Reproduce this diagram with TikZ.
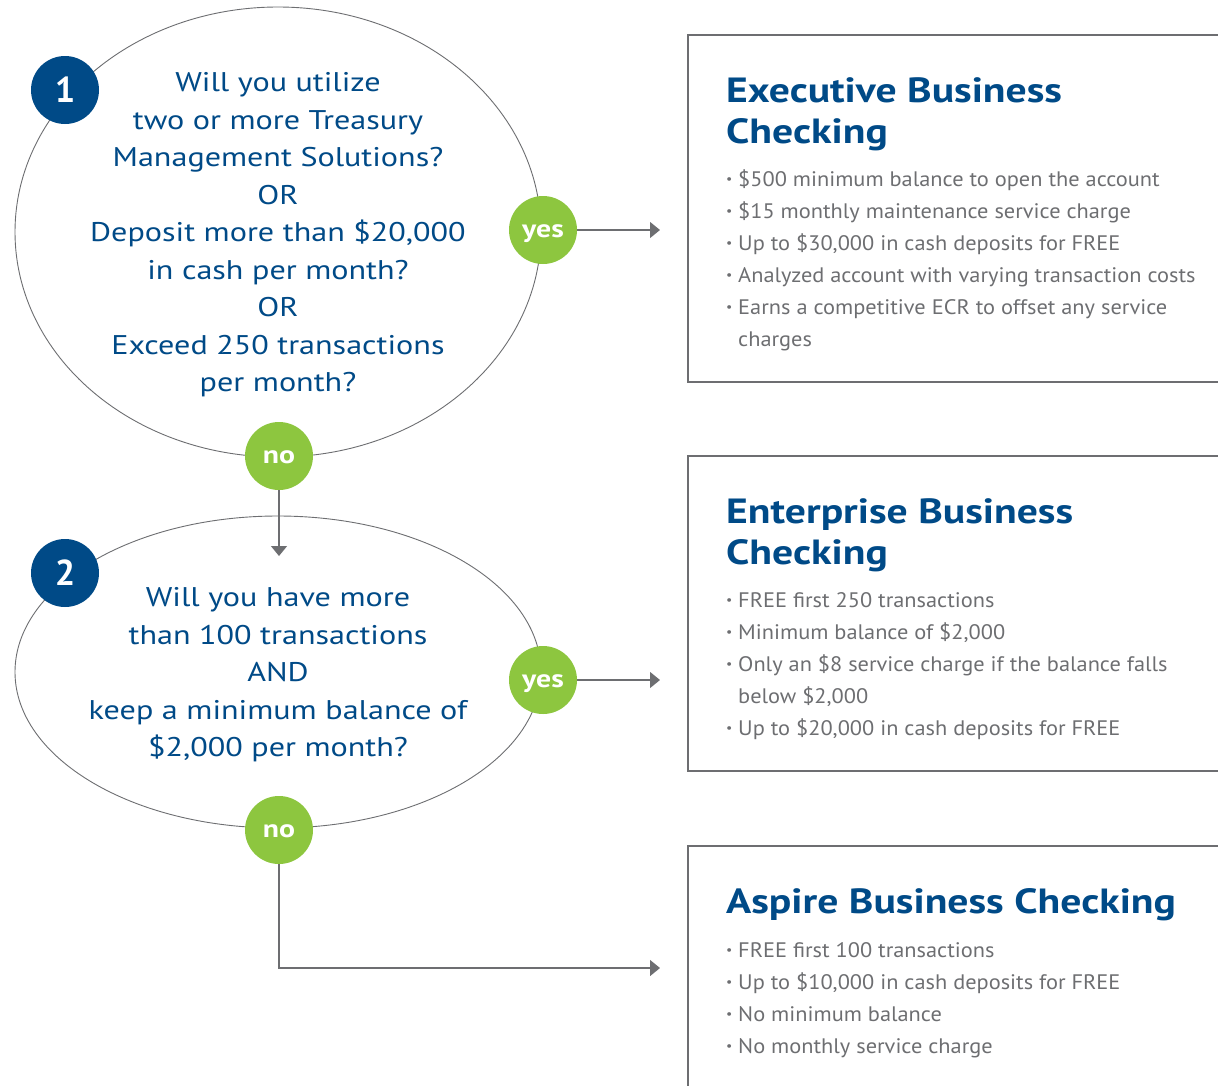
\documentclass[tikz,border=0pt]{standalone}
\usepackage{fontspec}
\setmainfont{PT Sans}
\newfontfamily\widefont[FakeStretch=1.19]{PT Sans}
\newfontfamily\itemfont[FakeStretch=1.065]{PT Sans}
\usetikzlibrary{shapes.geometric,arrows.meta}
\definecolor{navy}{HTML}{004A87}
\definecolor{lgreen}{HTML}{8DC63F}
\definecolor{txtgray}{HTML}{6D6E71}
\definecolor{lngray}{HTML}{6D6E71}
\newcommand\bl{\makebox[12pt][l]{\fontsize{13}{13}\selectfont\raisebox{2.5pt}{•}}}
\newcommand\ans[1]{\raisebox{-7pt}[0pt][0pt]{#1}}
\begin{document}
\begin{tikzpicture}[x=1pt,y=-1pt,
  question/.style={ellipse, draw=lngray, line width=0.9pt, inner sep=0pt, fill=white},
  qtext/.style={text=navy, align=center, inner sep=0pt, font=\widefont\fontsize{27}{37.5}\selectfont},
  numbadge/.style={circle, fill=navy, minimum size=68pt, inner sep=0pt, text=white, font=\fontsize{36}{36}\selectfont\bfseries},
  answer/.style={circle, fill=lgreen, minimum size=68pt, inner sep=0pt, text=white, font=\widefont\fontsize{25}{25}\selectfont\bfseries},
  link/.style={draw=lngray, line width=1.2pt, -{Triangle[length=10pt,width=16pt]}},
  panel/.style={draw=lngray, line width=1.5pt, anchor=north west, minimum width=620pt, inner sep=0pt},
  title/.style={anchor=base west, text=navy, inner sep=0pt, font=\widefont\fontsize{35}{41}\selectfont\bfseries},
  item/.style={anchor=base west, text=txtgray, inner sep=0pt, font=\itemfont\fontsize{21}{32}\selectfont}
]
\useasboundingbox (0,0) rectangle (1218,1085);

% panels
\node[panel, minimum height=347pt] (p1) at (687,34) {};
\node[panel, minimum height=315pt] (p2) at (687,455) {};
\node[panel, minimum height=320pt] (p3) at (687,845) {};

% questions
\node[question, minimum width=526pt, minimum height=450pt] (q1) at (278,232) {};
\node[question, minimum width=526pt, minimum height=312pt] (q2) at (278,672) {};

\node[qtext] (q1t) at (278,235) {Will you utilize\\two or more Treasury\\Management Solutions?\\OR\\Deposit more than \$20,000\\in cash per month?\\OR\\Exceed 250 transactions\\per month?};
\node[qtext] (q2t) at (278,675) {Will you have more\\than 100 transactions\\AND\\keep a minimum balance of\\\$2,000 per month?};

% badges
\node[numbadge] (n1) at (65,90) {1};
\node[numbadge] (n2) at (65,573) {2};

% answers
\node[answer] (yes1) at (543,230) {\ans{yes}};
\node[answer] (no1) at (279,456) {\ans{no}};
\node[answer] (yes2) at (543,680) {\ans{yes}};
\node[answer] (no2) at (279,830) {\ans{no}};

% connector ends
\coordinate (p1in) at (660,230);
\coordinate (p2in) at (660,680);
\coordinate (p3in) at (660,968);
\coordinate (q2in) at (279,556);

\draw[link] (yes1.east) -- (p1in);
\draw[link] (yes2.east) -- (p2in);
\draw[link] (no1.south) -- (q2in);
\draw[link] (no2.south) |- (p3in);

% panel 1 text
\node[title] (t1a) at (726,102) {Executive Business};
\node[title] (t1b) at (726,143) {Checking};
\node[item] (i1a) at (726,186) {\bl\$500 minimum balance to open the account};
\node[item] (i1b) at (726,218) {\bl\$15 monthly maintenance service charge};
\node[item] (i1c) at (726,250) {\bl Up to \$30,000 in cash deposits for FREE};
\node[item] (i1d) at (726,282) {\bl Analyzed account with varying transaction costs};
\node[item] (i1e) at (726,314) {\bl Earns a competitive ECR to offset any service};
\node[item] (i1f) at (738,346) {charges};

% panel 2 text
\node[title] (t2a) at (726,523) {Enterprise Business};
\node[title] (t2b) at (726,564) {Checking};
\node[item] (i2a) at (726,607) {\bl FREE first 250 transactions};
\node[item] (i2b) at (726,639) {\bl Minimum balance of \$2,000};
\node[item] (i2c) at (726,671) {\bl Only an \$8 service charge if the balance falls};
\node[item] (i2d) at (738,703) {below \$2,000};
\node[item] (i2e) at (726,735) {\bl Up to \$20,000 in cash deposits for FREE};

% panel 3 text
\node[title] (t3a) at (726,913) {Aspire Business Checking};
\node[item] (i3a) at (726,957) {\bl FREE first 100 transactions};
\node[item] (i3b) at (726,989) {\bl Up to \$10,000 in cash deposits for FREE};
\node[item] (i3c) at (726,1021) {\bl No minimum balance};
\node[item] (i3d) at (726,1053) {\bl No monthly service charge};
\end{tikzpicture}
\end{document}
